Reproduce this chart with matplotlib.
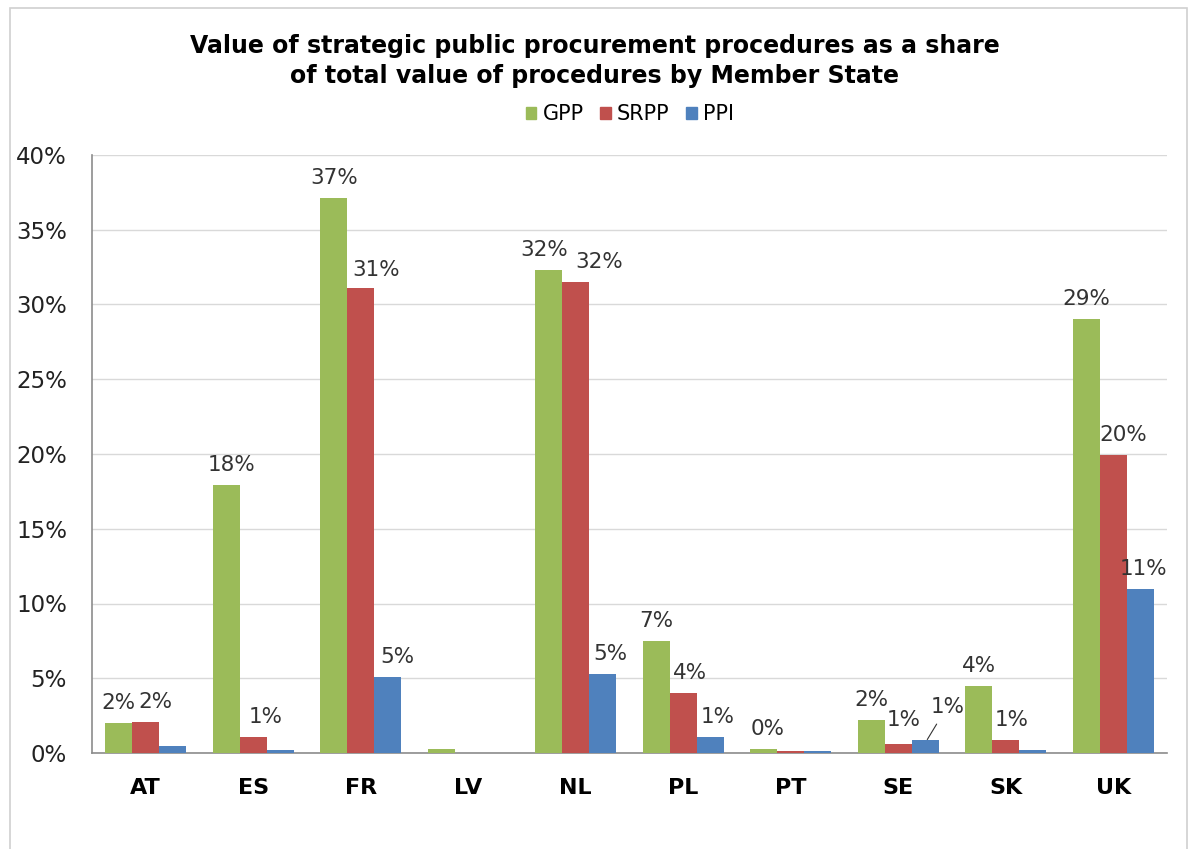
import numpy as np
import matplotlib.pyplot as plt
from matplotlib.patches import Patch, Rectangle

# data (percent)
countries = ['AT', 'ES', 'FR', 'LV', 'NL', 'PL', 'PT', 'SE', 'SK', 'UK']
gpp = [2.0, 17.9, 37.1, 0.3, 32.3, 7.5, 0.25, 2.2, 4.5, 29.0]
srpp = [2.1, 1.05, 31.1, 0.0, 31.5, 4.0, 0.15, 0.6, 0.9, 19.9]
ppi = [0.45, 0.2, 5.1, 0.0, 5.3, 1.1, 0.15, 0.9, 0.2, 11.0]

# data labels as printed ('' = no label)
gpp_lab = ['2%', '18%', '37%', '', '32%', '7%', '0%', '2%', '4%', '29%']
srpp_lab = ['2%', '1%', '31%', '', '32%', '4%', '', '1%', '1%', '20%']
ppi_lab = ['', '', '5%', '', '5%', '1%', '', '1%', '', '11%']

series = ['GPP', 'SRPP', 'PPI']
colors = ['#9BBB59', '#C0504D', '#4F81BD']

# label nudges in pixels (dx, dy) keyed by (series index, country index)
nudge = {
    (1, 0): (10, 0), (0, 1): (5, 0), (1, 1): (12, 0),
    (1, 2): (15, -2), (2, 2): (10, 0),
    (0, 4): (-5, 0), (1, 4): (23, 0), (2, 4): (8, 0),
    (1, 5): (7, 0), (2, 5): (8, 0), (0, 6): (4, 0),
    (1, 7): (5, 4), (1, 8): (6, 0), (1, 9): (10, 0), (2, 9): (3, 0),
}

fig = plt.figure(figsize=(11.9, 8.49), dpi=100)
ax = fig.add_axes([92 / 1190, 1 - 753 / 849, (1167 - 92) / 1190, 598 / 849])

# outer chart border
fig.patches.append(Rectangle((10 / 1190, -0.1), 1177 / 1190, 1.1 - 8 / 849,
                             transform=fig.transFigure, fill=False,
                             edgecolor='#D0D0D0', lw=1.2))

x = np.arange(len(countries))
w = 0.25
vals = [gpp, srpp, ppi]
labs = [gpp_lab, srpp_lab, ppi_lab]
for i in range(3):
    ax.bar(x + (i - 1) * w, vals[i], w, color=colors[i], zorder=3)
    for j in range(len(countries)):
        if labs[i][j] == '':
            continue
        if (i, j) == (2, 7):
            # SE PPI label sits up and right with a leader line
            ax.annotate(labs[i][j], (x[j] + (i - 1) * w + 0.02, vals[i][j]),
                        xytext=(20, 33), textcoords='offset pixels',
                        ha='center', va='center', fontsize=15.5, color='#333333',
                        arrowprops=dict(arrowstyle='-', color='#333333', lw=0.8,
                                        shrinkA=4, shrinkB=0))
            continue
        dx, dy = nudge.get((i, j), (0, 0))
        ax.annotate(labs[i][j], (x[j] + (i - 1) * w, vals[i][j]),
                    xytext=(dx, 20 + dy), textcoords='offset pixels',
                    ha='center', va='center', fontsize=15.5, color='#333333')

ax.set_xlim(-0.5, len(countries) - 0.5)
ax.set_ylim(0, 40)
ax.set_yticks(range(0, 41, 5))
ax.set_yticklabels([f'{t}%' for t in range(0, 41, 5)], fontsize=16.5, color='#222222')
ax.set_xticks(x)
ax.set_xticklabels(countries, fontsize=16, fontweight='bold')
ax.tick_params(axis='y', length=0, pad=18)
ax.tick_params(axis='x', length=0, pad=18)
ax.grid(axis='y', color='#D9D9D9', lw=1, zorder=0)
for s in ['top', 'right']:
    ax.spines[s].set_visible(False)
for s in ['left', 'bottom']:
    ax.spines[s].set_color('#8C8C8C')
    ax.spines[s].set_linewidth(1.2)

fig.text(0.5, 1 - 61 / 849,
         'Value of strategic public procurement procedures as a share\nof total value of procedures by Member State',
         ha='center', va='center', fontsize=17, fontweight='bold', linespacing=1.3)

handles = [Patch(color=c, label=s) for c, s in zip(colors, series)]
fig.legend(handles=handles, loc='center', bbox_to_anchor=(630 / 1190, 1 - 114 / 849),
           ncol=3, frameon=False, fontsize=15, handlelength=0.5, handleheight=0.5,
           handletextpad=0.3, columnspacing=0.8)

fig.savefig('out.png', dpi=100)
